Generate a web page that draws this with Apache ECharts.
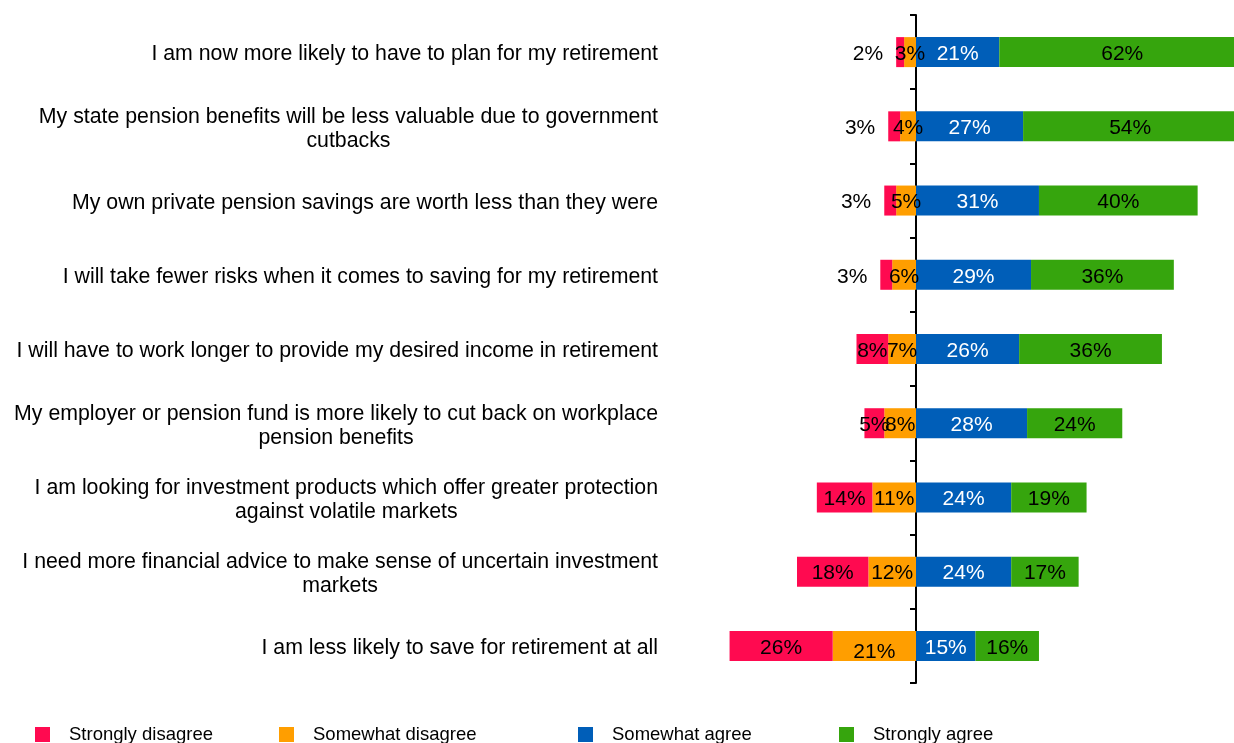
<!DOCTYPE html>
<html>
<head>
<meta charset="utf-8">
<script src="https://cdn.jsdelivr.net/npm/echarts@6/dist/echarts.min.js"></script>
<style>
html,body{margin:0;padding:0;background:#fff;}
#c{width:1234px;height:743px;}
</style>
</head>
<body>
<div id="c"></div>
<script>
const categories = [
  "I am now more likely to have to plan for my retirement",
  "My state pension benefits will be less valuable due to government\ncutbacks",
  "My own private pension savings are worth less than they were",
  "I will take fewer risks when it comes to saving for my retirement",
  "I will have to work longer to provide my desired income in retirement",
  "My employer or pension fund is more likely to cut back on workplace\npension benefits",
  "I am looking for investment products which offer greater protection\nagainst volatile markets",
  "I need more financial advice to make sense of uncertain investment\nmarkets",
  "I am less likely to save for retirement at all"
];
const seriesNames = ["Strongly disagree", "Somewhat disagree", "Somewhat agree", "Strongly agree"];
const stronglyDisagree = [2, 3, 3, 3, 8, 5, 14, 18, 26];
const somewhatDisagree = [3, 4, 5, 6, 7, 8, 11, 12, 21];
const somewhatAgree = [21, 27, 31, 29, 26, 28, 24, 24, 15];
const stronglyAgree = [62, 54, 40, 36, 36, 24, 19, 17, 16];

const FONT = "'Liberation Sans', Arial, sans-serif";
const COLORS = ['#FF0A50', '#FF9E00', '#005EB8', '#36A50D'];

const chart = echarts.init(document.getElementById('c'), null, {renderer: 'canvas'});
const pct = p => Math.abs(p.value) + '%';
function barLabel(color) {
  return {show: true, position: 'inside', formatter: pct, color: color, fontSize: 21, fontFamily: FONT, offset: [0, 2]};
}

const legendLeft = [35, 279, 578, 839];

const option = {
  animation: false,
  backgroundColor: '#fff',
  grid: {left: 678, right: -39, top: 15, bottom: 60, containLabel: false, outerBoundsMode: 'none'},
  xAxis: {type: 'value', min: -60, max: 90, show: false, splitLine: {show: false}},
  yAxis: [
    {
      type: 'category', data: categories, inverse: true, position: 'left',
      axisLine: {show: false, onZero: false}, axisTick: {show: false}, splitLine: {show: false},
      axisLabel: {
        interval: 0, margin: 20, align: 'right', fontSize: 21.3, fontFamily: FONT, color: '#000', lineHeight: 24,
        padding: [5, 0, 0, 0],
        formatter: v => v.split('\n').map(s => '{c|' + s + '}').join('\n'),
        rich: {c: {align: 'center', fontSize: 21.3, fontFamily: FONT, color: '#000', lineHeight: 24}}
      }
    },
    {
      type: 'category', data: categories, inverse: true, position: 'left',
      axisLine: {show: true, onZero: true, lineStyle: {color: '#000', width: 2}},
      axisTick: {show: true, inside: false, length: 6, lineStyle: {color: '#000', width: 2}},
      axisLabel: {show: false}, splitLine: {show: false}
    }
  ],
  legend: seriesNames.map((n, i) => ({
    data: [n], left: legendLeft[i], top: 725, padding: 0, icon: 'rect', itemWidth: 15, itemHeight: 15,
    selectedMode: false,
    textStyle: {fontSize: 18.5, fontFamily: FONT, color: '#000', padding: [0, 0, 0, 14]}
  })),
  series: [
    {
      name: seriesNames[1], type: 'bar', stack: 's', barWidth: 30, yAxisIndex: 0,
      itemStyle: {color: COLORS[1]}, label: barLabel('#000'),
      data: somewhatDisagree.map((v, i) => i === 8 ? {value: -v, label: {offset: [0, 6]}} : -v)
    },
    {
      name: seriesNames[0], type: 'bar', stack: 's', barWidth: 30, yAxisIndex: 0,
      itemStyle: {color: COLORS[0]}, label: barLabel('#000'),
      data: stronglyDisagree.map(v => v <= 3 ? {value: -v, label: {position: 'left', distance: 13}} : -v)
    },
    {
      name: seriesNames[2], type: 'bar', stack: 's', barWidth: 30, yAxisIndex: 0,
      itemStyle: {color: COLORS[2]}, label: barLabel('#fff'),
      data: somewhatAgree.slice()
    },
    {
      name: seriesNames[3], type: 'bar', stack: 's', barWidth: 30, yAxisIndex: 0,
      itemStyle: {color: COLORS[3]}, label: barLabel('#000'),
      data: stronglyAgree.slice()
    }
  ]
};
chart.setOption(option);
</script>
</body>
</html>
